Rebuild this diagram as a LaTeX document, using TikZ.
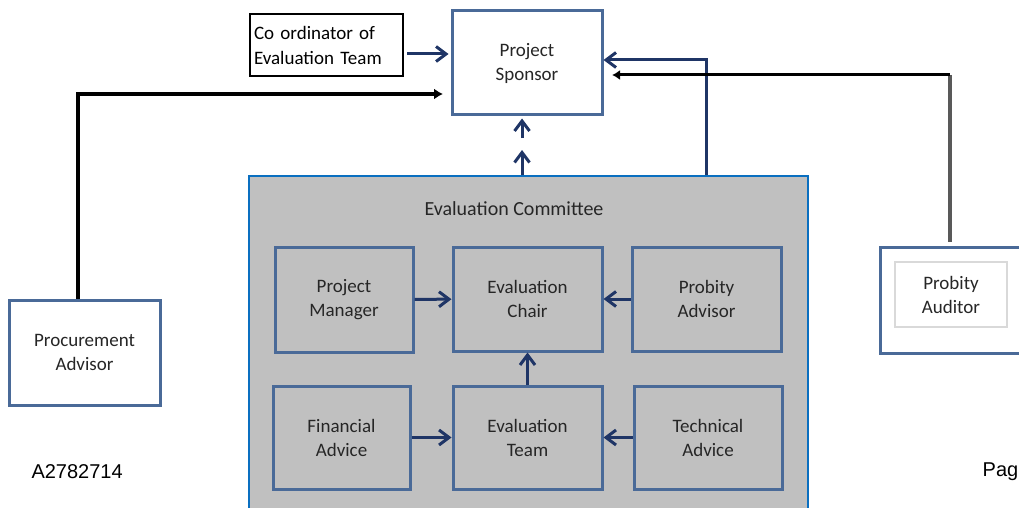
\documentclass[tikz,border=0pt]{standalone}
\usepackage{fontspec}
\setmainfont{Carlito}
\newfontfamily\docfont{Liberation Sans}
\usepackage{tikz}
\usetikzlibrary{arrows.meta,positioning,calc}
\definecolor{boxblue}{HTML}{4A6A98}
\definecolor{navy}{HTML}{1F3566}
\definecolor{cblue}{HTML}{0A6FC0}
\definecolor{cgray}{HTML}{C0C0C0}
\tikzset{
  rbox/.style={draw=boxblue,line width=3pt,align=center,inner sep=2pt,
    font=\fontsize{19}{24}\selectfont,text=black!85},
  wbox/.style={rbox,fill=white},
  gbox/.style={rbox,fill=cgray,minimum height=104pt},
  narrow/.style={-{Straight Barb[length=10pt,width=15pt]},draw=navy,line width=3pt},
  barrow/.style={-{Latex[length=9pt,width=11pt]},line width=4.5pt},
}
\begin{document}
\begin{tikzpicture}[x=1pt,y=-1pt]
\useasboundingbox (0,0) rectangle (1019,508);
\node[draw=cblue,line width=2.5pt,fill=cgray,minimum width=559pt,minimum height=336pt] (comm) at (528.5,344) {};
\node[font=\fontsize{20}{24}\selectfont,text=black!85] (commlbl) at (514,209) {Evaluation Committee};
\node[wbox,minimum width=150pt,minimum height=104pt] (spons) at (527,63) {Project\\Sponsor};
\node[draw=black,line width=2pt,fill=white,text width=145pt,minimum height=62pt,
  align=left,inner sep=4pt,font=\fontsize{19}{25}\selectfont] (coord) at (326.5,45)
  {Co ordinator of\\Evaluation Team};
\node[wbox,minimum width=151pt,minimum height=105pt] (proc) at (84.5,352.5) {Procurement\\Advisor};
\node[wbox,minimum width=140pt,minimum height=106pt] (aud) at (950,300) {};
\node[draw=black!15,line width=2.5pt,minimum width=112pt,minimum height=65pt,align=center,
  font=\fontsize{19}{24}\selectfont,text=black!85] (audtxt) at (951,294.5) {Probity\\Auditor};
\node[gbox,minimum width=138pt,minimum height=105pt] (pm) at (344,299.5) {Project\\Manager};
\node[gbox,minimum width=149pt] (chair) at (527.5,299) {Evaluation\\Chair};
\node[gbox,minimum width=149pt] (padv) at (706.5,299) {Probity\\Advisor};
\node[gbox,minimum width=137pt,minimum height=103pt] (fin) at (341.5,437.5) {Financial\\Advice};
\node[gbox,minimum width=149pt,minimum height=103pt] (team) at (527.5,437.5) {Evaluation\\Team};
\node[gbox,minimum width=148pt,minimum height=103pt] (tech) at (708,437.5) {Technical\\Advice};
\node[font=\docfont\fontsize{20}{24}\selectfont,anchor=west] (docno) at (28,472) {A2782714};
\node[font=\docfont\fontsize{20}{24}\selectfont,anchor=east,inner sep=0pt] (pg) at (1018.5,472) {Pag};
\draw[narrow] (pm) -- (chair);
\draw[narrow] (padv) -- (chair);
\draw[narrow] (team) -- (chair);
\draw[narrow] (fin) -- (team);
\draw[narrow] (tech) -- (team);
\coordinate (c-out) at ($(coord.east)+(3,9)$);
\draw[narrow] (c-out) -- ([xshift=-2pt]c-out -| spons.west);
\coordinate (up1) at (522,150);
\coordinate (up2) at (522,138);
\draw[narrow] (comm.north -| up1) -- (up1);
\draw[narrow] (up2) -- ([yshift=-2pt]spons.south -| up2);
\draw[narrow] (comm.north -| padv) |- ([yshift=3pt]spons.east);
\coordinate (p-in) at (443,94);
\draw[barrow] ([xshift=-6.5pt]proc.north) |- (p-in);
\coordinate (a-turn) at (950,75);
\draw[draw=black!65,line width=3.5pt] ([yshift=4pt]aud.north) -- (a-turn);
\draw[-{Latex[length=8pt,width=10pt]},line width=3pt] (a-turn) -- (a-turn -| 612,0);
\end{tikzpicture}
\end{document}
